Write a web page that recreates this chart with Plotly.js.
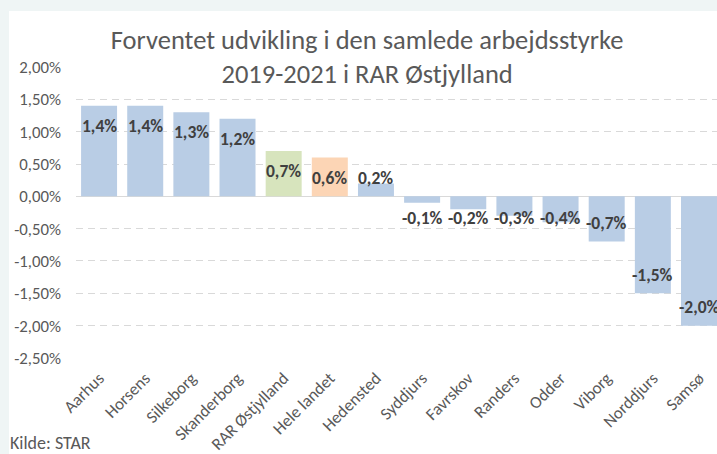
<!DOCTYPE html>
<html>
<head>
<meta charset="utf-8">
<script src="https://cdn.plot.ly/plotly-3.0.1.min.js"></script>
<style>html,body{margin:0;padding:0;background:#EFF5F5;}#chart{width:717px;height:454px;}</style>
</head>
<body>
<div id="chart"></div>
<script>
const categories = ["Aarhus","Horsens","Silkeborg","Skanderborg","RAR Østjylland","Hele landet","Hedensted","Syddjurs","Favrskov","Randers","Odder","Viborg","Norddjurs","Samsø"];
const values = [1.4, 1.4, 1.3, 1.2, 0.7, 0.6, 0.2, -0.1, -0.2, -0.3, -0.4, -0.7, -1.5, -2.0];
const yTickVals = [2.0, 1.5, 1.0, 0.5, 0.0, -0.5, -1.0, -1.5, -2.0, -2.5];
const yTickText = ["2,00%","1,50%","1,00%","0,50%","0,00%","-0,50%","-1,00%","-1,50%","-2,00%","-2,50%"];
const titleText = "Forventet udvikling i den samlede arbejdsstyrke<br>2019-2021 i RAR Østjylland";
const sourceText = "Kilde: STAR";

const BLUE = "#B9CDE5", GREEN = "#D7E4BD", ORANGE = "#FCD5B5";
const barColors = categories.map(c => c === "RAR Østjylland" ? GREEN : (c === "Hele landet" ? ORANGE : BLUE));
const FONT = "Carlito, Calibri, Lato, sans-serif";

function fmt(v) { return v.toFixed(1).replace(".", ",") + "%"; }
// Excel "inside end" label placement, kept clear of the zero line
function labelY(v) {
  return v >= 0 ? Math.max(v - 0.31, 0.28) : Math.min(v + 0.29, -0.33);
}

const trace = {
  type: "bar",
  x: categories,
  y: values,
  marker: { color: barColors, line: { width: 0 } },
  hoverinfo: "x+y",
  cliponaxis: true
};

const annotations = categories.map((c, i) => ({
  x: c, y: labelY(values[i]), xref: "x", yref: "y",
  text: "<b>" + fmt(values[i]) + "</b>", showarrow: false,
  xanchor: "center", yanchor: "middle",
  font: { family: FONT, size: 17.5, color: "#404040" }
}));
annotations.push({
  xref: "paper", yref: "paper", x: -0.106, y: -0.292,
  xanchor: "left", yanchor: "middle", showarrow: false,
  text: sourceText, font: { family: FONT, size: 18, color: "#595959" }
});

const layout = {
  width: 717, height: 454,
  margin: { l: 76, r: 0, t: 67, b: 96, pad: 0 },
  paper_bgcolor: "#EFF5F5",
  plot_bgcolor: "#FFFFFF",
  separators: ",.",
  showlegend: false,
  bargap: 0.22,
  title: {
    text: titleText,
    font: { family: FONT, size: 26.5, color: "#595959" },
    x: 0.512, xref: "container", xanchor: "center",
    y: 1 - 49/454, yref: "container", yanchor: "top"
  },
  xaxis: {
    type: "category",
    range: [-0.5, 13.39],
    tickangle: -45,
    tickfont: { family: FONT, size: 17, color: "#595959" },
    showgrid: false, zeroline: false, showline: false, ticks: "",
    ticklabelshift: 0, ticklabelstandoff: 6,
    fixedrange: true
  },
  yaxis: {
    range: [-2.5005, 2.0005],
    tickvals: yTickVals, ticktext: yTickText,
    tickfont: { family: FONT, size: 16.8, color: "#595959" },
    showgrid: true, gridcolor: "#D9D9D9", gridwidth: 1, griddash: "7px,5px",
    zeroline: true, zerolinecolor: "#D9D9D9", zerolinewidth: 1.5,
    showline: false, ticks: "", ticklabelstandoff: 14,
    fixedrange: true
  },
  shapes: [{
    type: "rect", xref: "paper", yref: "paper", layer: "below",
    x0: -0.1045, x1: 1.01, y0: -0.34, y1: 1.1924,
    fillcolor: "#FFFFFF", line: { width: 0 }
  }],
  annotations: annotations
};

Plotly.newPlot("chart", [trace], layout, { displayModeBar: false, staticPlot: true });
</script>
</body>
</html>
